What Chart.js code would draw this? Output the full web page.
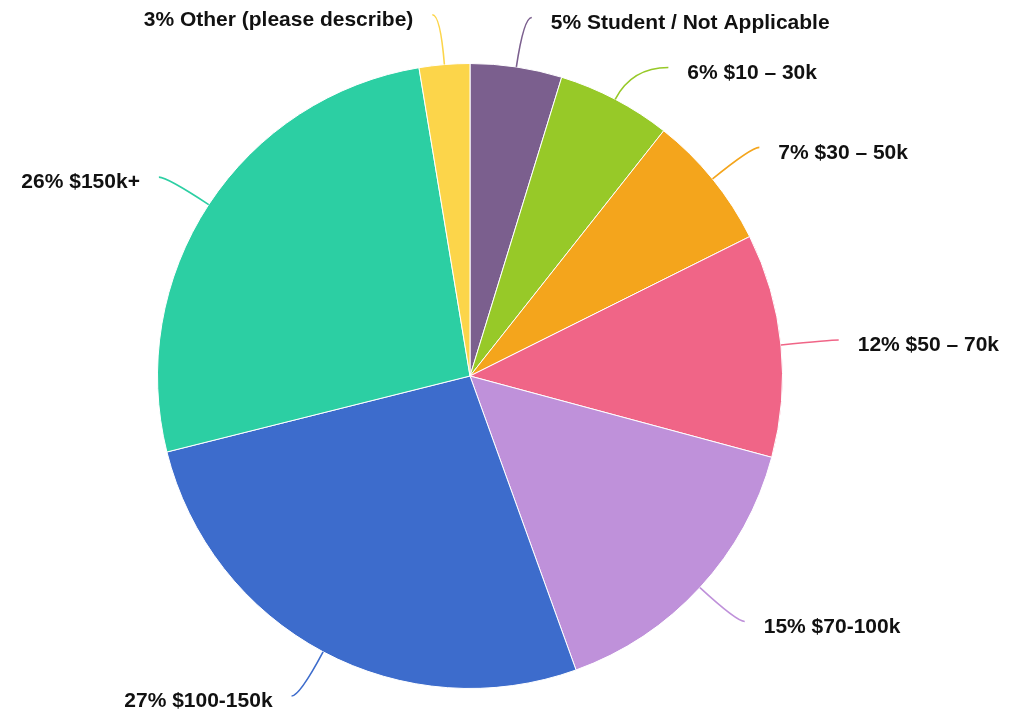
<!DOCTYPE html>
<html>
<head>
<meta charset="utf-8">
<script src="https://cdn.jsdelivr.net/npm/chart.js@4/dist/chart.umd.min.js"></script>
<style>
html,body{margin:0;padding:0;background:#fff;}
#wrap{width:1013px;height:713px;position:relative;}
</style>
</head>
<body>
<div id="wrap"><canvas id="c" width="1013" height="713"></canvas></div>
<script>
const categories = ["Student / Not Applicable", "$10 \u2013 30k", "$30 \u2013 50k", "$50 \u2013 70k", "$70-100k", "$100-150k", "$150k+", "Other (please describe)"];
const values = [4.74, 5.9, 7.0, 11.55, 15.3, 26.6, 26.3, 2.61];
const colors = ["#7b5f8e", "#97c928", "#f4a51c", "#f06587", "#bf91da", "#3d6ccc", "#2ccfa3", "#fcd54a"];

const outLabels = {
  id: 'outLabels',
  afterDraw(chart) {
    const ctx = chart.ctx;
    const meta = chart.getDatasetMeta(0);
    const total = values.reduce((a, b) => a + b, 0);
    const items = meta.data.map((arc, i) => {
      const p = arc.getProps(['x', 'y', 'startAngle', 'endAngle', 'outerRadius'], true);
      const mid = (p.startAngle + p.endAngle) / 2;
      const cos = Math.cos(mid), sin = Math.sin(mid);
      const R = p.outerRadius, RL = R + 50;
      return {
        i, cx: p.x, cy: p.y, R, RL, cos, sin,
        side: cos >= 0 ? 1 : -1,
        sx: p.x + cos * R, sy: p.y + sin * R,
        ry: p.y + sin * RL,
        ey: p.y + sin * RL
      };
    });
    [1, -1].forEach(side => {
      const s = items.filter(it => it.side === side).sort((a, b) => a.ey - b.ey);
      for (let k = 1; k < s.length; k++) {
        if (s[k].ey < s[k - 1].ey + 50) s[k].ey = s[k - 1].ey + 50;
      }
    });
    ctx.save();
    items.forEach(it => {
      const dy = it.ey - it.cy;
      const dx = Math.sqrt(Math.max(0, it.RL * it.RL - dy * dy)) * it.side;
      const ex = it.cx + dx + it.side * 8;
      const ey = it.ey;
      let cpx, cpy;
      if (Math.abs(ey - it.ry) < 0.5) {
        cpx = it.cx + it.cos * it.RL; cpy = it.ry;
      } else {
        let d = (ey - it.cy) / it.sin;
        d = Math.max(it.R, Math.min(it.RL, d));
        cpx = it.cx + it.cos * d; cpy = it.cy + it.sin * d;
      }
      ctx.beginPath();
      ctx.moveTo(it.sx, it.sy);
      ctx.quadraticCurveTo(cpx, cpy, ex, ey);
      ctx.strokeStyle = colors[it.i];
      ctx.lineWidth = 1.6;
      ctx.stroke();
      const pct = Math.round(values[it.i] / total * 100);
      ctx.font = 'bold 21px "Liberation Sans", Arial, sans-serif';
      ctx.fillStyle = '#111';
      ctx.textBaseline = 'middle';
      ctx.textAlign = it.side > 0 ? 'left' : 'right';
      ctx.fillText(pct + '% ' + categories[it.i], ex + it.side * 19, ey + 5.5);
    });
    ctx.restore();
  }
};

new Chart(document.getElementById('c'), {
  type: 'pie',
  data: {
    labels: categories,
    datasets: [{
      data: values,
      backgroundColor: colors,
      borderColor: '#ffffff',
      borderWidth: 1
    }]
  },
  options: {
    responsive: false,
    animation: false,
    layout: { padding: { left: 157, right: 230, top: 63, bottom: 24 } },
    plugins: { legend: { display: false }, tooltip: { enabled: false } }
  },
  plugins: [outLabels]
});
</script>
</body>
</html>
